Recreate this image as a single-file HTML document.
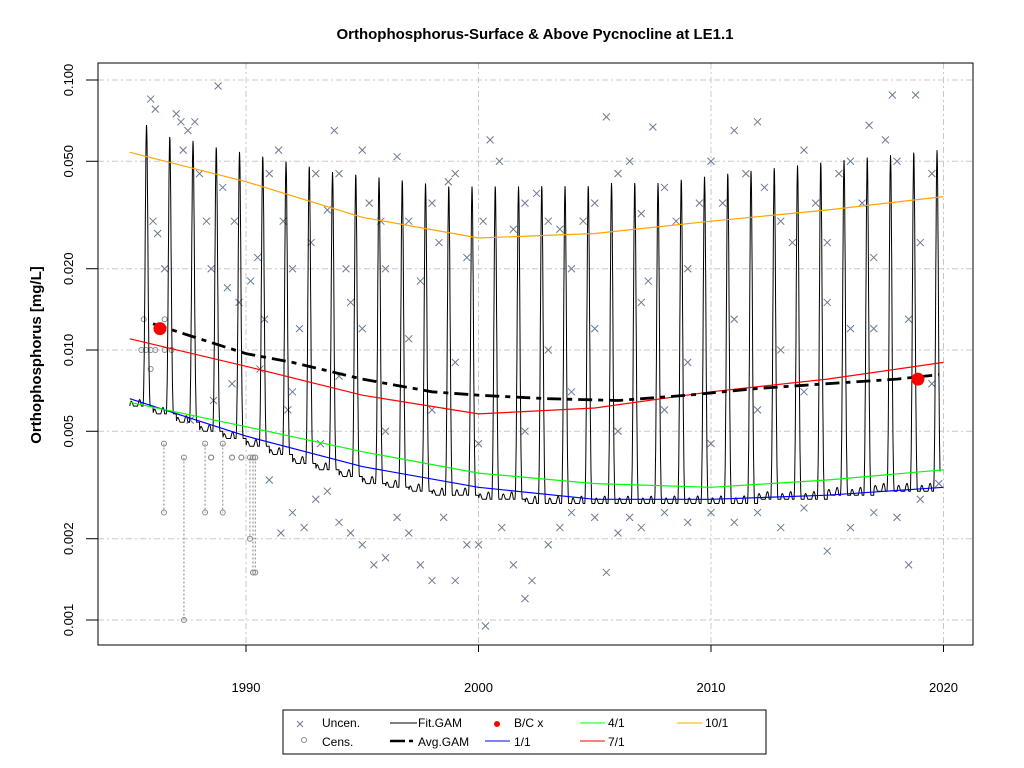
<!DOCTYPE html>
<html><head><meta charset="utf-8"><style>
body{margin:0;background:#fff;}
svg{display:block;font-family:"Liberation Sans",Arial,sans-serif;}
</style></head><body>
<svg id="chart" width="1024" height="768" viewBox="0 0 1024 768">
<text x="535" y="39" text-anchor="middle" font-size="15" font-weight="bold">Orthophosphorus-Surface &amp; Above Pycnocline at LE1.1</text>
<text transform="translate(41,355) rotate(-90)" text-anchor="middle" font-size="15" font-weight="bold">Orthophosphorus [mg/L]</text>
<g id="grid"></g>
<g id="cens"></g>
<g id="uncen"></g>
<g id="lines"></g>
<g id="axes"></g>
<rect x="98" y="63" width="875" height="582" fill="none" stroke="#000" stroke-width="1"/>
<g>
<rect x="283" y="710" width="483" height="44" fill="#fff" stroke="#000"/>
<g><path d="M297,721L303,727M297,727L303,721" stroke="#6b7a8f"/><text x="322" y="727" font-size="12">Uncen.</text></g>
<g><circle cx="304" cy="740" r="2.5" fill="none" stroke="#888"/><text x="322" y="746" font-size="12">Cens.</text></g>
<g><line x1="390" y1="723" x2="417" y2="723" stroke="#000"/><text x="418" y="727" font-size="12">Fit.GAM</text></g>
<g><line x1="390" y1="741" x2="405" y2="741" stroke="#000" stroke-width="2.5"/><line x1="409" y1="741" x2="413" y2="741" stroke="#000" stroke-width="2.5"/><text x="418" y="746" font-size="12">Avg.GAM</text></g>
<g><circle cx="497" cy="724" r="3" fill="#f00"/><text x="514" y="727" font-size="12">B/C x</text></g>
<g><line x1="485" y1="741" x2="510" y2="741" stroke="#00f"/><text x="514" y="746" font-size="12">1/1</text></g>
<g><line x1="580" y1="723" x2="605" y2="723" stroke="#0f0"/><text x="608" y="727" font-size="12">4/1</text></g>
<g><line x1="580" y1="741" x2="605" y2="741" stroke="#f00"/><text x="608" y="746" font-size="12">7/1</text></g>
<g><line x1="677" y1="723" x2="702" y2="723" stroke="#ffa500"/><text x="705" y="727" font-size="12">10/1</text></g>
</g>
</svg>
<script>
const xTicks=[1990,2000,2010,2020];
const yTicks=[0.001,0.002,0.005,0.01,0.02,0.05,0.1];
const yTickLabels=["0.001","0.002","0.005","0.010","0.020","0.050","0.100"];
const lineYears=[1985,1990,1995,2000,2005,2010,2015,2020];
const jan1=[0.0066,0.0048,0.0037,0.0031,0.0028,0.0028,0.0029,0.0031];
const apr1=[0.0064,0.0052,0.0042,0.0035,0.0032,0.0031,0.0033,0.0036];
const jul1=[0.011,0.0087,0.0068,0.0058,0.0061,0.0070,0.0078,0.0090];
const oct1=[0.054,0.042,0.031,0.026,0.027,0.030,0.033,0.037];
const avgYears=[1986,1988,1990,1992,1995,1998,2000,2003,2006,2009,2012,2015,2018,2019.8];
const avgVals=[0.0125,0.011,0.0097,0.009,0.0078,0.007,0.0068,0.0066,0.0065,0.0068,0.0072,0.0075,0.0078,0.0081];
const fitYears=[1985,1986,1987,1988,1989,1990,1991,1992,1993,1994,1995,1996,1997,1998,1999,2000,2001,2002,2003,2004,2005,2006,2007,2008,2009,2010,2011,2012,2013,2014,2015,2016,2017,2018,2019];
const fitPeaks=[0.063,0.057,0.055,0.052,0.05,0.048,0.046,0.044,0.042,0.041,0.04,0.039,0.038,0.037,0.037,0.037,0.037,0.037,0.037,0.037,0.038,0.038,0.038,0.039,0.04,0.041,0.042,0.043,0.044,0.045,0.046,0.047,0.048,0.049,0.05];
const fitTroughs=[0.0062,0.0058,0.0054,0.005,0.0047,0.0044,0.0041,0.0038,0.0036,0.0034,0.0032,0.0031,0.003,0.0029,0.0029,0.0028,0.0028,0.0027,0.0027,0.0027,0.0027,0.0027,0.0027,0.0027,0.0027,0.0027,0.0027,0.0028,0.0028,0.0028,0.0029,0.0029,0.003,0.003,0.003];
const bcYears=[1986.3,2018.9];
const bcVals=[0.012,0.0078];
const unYears=[1985.9,1986.1,1986,1986.2,1986.5,1987,1987.2,1987.5,1987.3,1987.8,1988,1988.3,1988.8,1988.5,1989,1989.5,1989.2,1989.7,1990.2,1990.5,1990.8,1991,1991.4,1991.6,1992,1992.3,1992.8,1993,1993.5,1993.8,1994,1994.3,1994.5,1995,1995.3,1995.8,1996,1996.5,1997,1997.5,1998,1998.3,1998.7,1999,1999.5,2000.2,2000.5,2000.9,2001.5,2002,2002.5,2003,2003.5,2004,2004.5,2005,2005.5,2006,2006.5,2007,2007.3,2007.5,2008,2008.5,2009,2009.5,2010,2010.5,2011,2011.5,2012,2012.3,2013,2013.5,2014,2014.5,2015,2015.5,2016,2016.5,2016.8,2017,2017.5,2017.8,2018,2018.5,2018.8,2019,2019.5,
1991,1991.5,1992,1992.5,1993,1993.5,1994,1994.5,1995,1995.5,1996,1996.5,1997,1997.5,1998,1998.5,1999,1999.5,2000,2000.3,2001,2001.5,2002,2002.3,2003,2003.5,2004,2005,2005.5,2006,2006.5,2007,2008,2009,2010,2011,2012,2013,2014,2015,2016,2017,2018,2018.5,2019,
1992,1994,1996,1998,2000,2002,2004,2006,2008,2010,2012,2014,2016,2017,2019.5,2019.8,1995,1997,1999,2003,2005,2007,2009,2011,2013,2015,1987.6,1988.6,1989.4,1990.6,1991.8,1993.2];
const unVals=[0.085,0.078,0.03,0.027,0.02,0.075,0.07,0.065,0.055,0.07,0.045,0.03,0.095,0.02,0.04,0.03,0.017,0.015,0.018,0.022,0.013,0.045,0.055,0.03,0.02,0.012,0.025,0.045,0.033,0.065,0.045,0.02,0.015,0.055,0.035,0.03,0.02,0.052,0.03,0.018,0.035,0.025,0.042,0.045,0.022,0.03,0.06,0.05,0.028,0.035,0.038,0.03,0.028,0.02,0.03,0.035,0.073,0.045,0.05,0.032,0.018,0.067,0.04,0.03,0.02,0.035,0.05,0.035,0.065,0.045,0.07,0.04,0.03,0.025,0.055,0.035,0.025,0.045,0.05,0.035,0.068,0.022,0.06,0.088,0.05,0.013,0.088,0.025,0.045,
0.0033,0.0021,0.0025,0.0022,0.0028,0.003,0.0023,0.0021,0.0019,0.0016,0.0017,0.0024,0.0021,0.0016,0.0014,0.0024,0.0014,0.0019,0.0019,0.00095,0.0022,0.0016,0.0012,0.0014,0.0019,0.0022,0.0025,0.0024,0.0015,0.0021,0.0024,0.0022,0.0025,0.0023,0.0025,0.0023,0.0025,0.0022,0.0026,0.0018,0.0022,0.0025,0.0024,0.0016,0.0028,
0.007,0.008,0.005,0.006,0.0045,0.005,0.007,0.005,0.006,0.0045,0.006,0.007,0.012,0.012,0.0075,0.0032,0.012,0.011,0.009,0.01,0.012,0.015,0.009,0.013,0.01,0.015,0.0055,0.0065,0.0075,0.0085,0.006,0.0045];
const cenYears=[1986.47,1987.33,1988.24,1988.5,1989.0,1989.4,1989.8,1990.17,1990.3,1990.4];
const cenUpper=[0.0045,0.004,0.0045,0.004,0.0045,0.004,0.004,0.004,0.004,0.004];
const cenLower=[0.0025,0.001,0.0025,0.004,0.0025,0.004,0.004,0.002,0.0015,0.0015];
const cenTopYears=[1985.5,1985.7,1985.9,1986.1,1986.5,1986.8,1985.6,1985.9,1986.5];
const cenTopVals=[0.01,0.01,0.01,0.01,0.01,0.01,0.013,0.0085,0.013];

const NS="http://www.w3.org/2000/svg";
const X=y=>246+(y-1990)*23.25;
const Y=v=>350-Math.log10(v/0.01)*270;
function mk(tag,attrs,parent){const e=document.createElementNS(NS,tag);for(const k in attrs)e.setAttribute(k,attrs[k]);parent.appendChild(e);return e;}
const grid=document.getElementById('grid'),axes=document.getElementById('axes'),lines=document.getElementById('lines');
xTicks.forEach(t=>{
 const g=mk('line',{x1:X(t),x2:X(t),y1:63,y2:645,stroke:'#c8c8c8','stroke-dasharray':'6 3 2 3'},grid);
 
 
 const tk=mk('line',{x1:X(t),x2:X(t),y1:645,y2:652,stroke:'#000'},axes);
 
 
 const tx=mk('text',{x:X(t),y:692,'text-anchor':'middle','font-size':'13'},axes);
 tx.textContent=t;
 
 
});
mk('line',{x1:X(1990),x2:X(2020),y1:645,y2:645,stroke:'#000'},axes);
yTicks.forEach((t,i)=>{
 const g=mk('line',{x1:98,x2:973,y1:Y(t),y2:Y(t),stroke:'#c8c8c8','stroke-dasharray':'6 3 2 3'},grid);
 
 
 const tk=mk('line',{x1:86,x2:98,y1:Y(t),y2:Y(t),stroke:'#000'},axes);
 
 
 const tx=mk('text',{transform:`translate(73,${Y(t)}) rotate(-90)`,'text-anchor':'middle','font-size':'13'},axes);
 tx.textContent=yTickLabels[i];
 
 
});
const cens=document.getElementById('cens');
cenYears.forEach((yr,i)=>{
 const l=mk('line',{x1:X(yr),x2:X(yr),y1:Y(cenUpper[i]),y2:Y(cenLower[i]),stroke:'#888','stroke-dasharray':'2 2'},cens);
 
 
 [cenUpper[i],cenLower[i]].forEach(v=>{const c=mk('circle',{cx:X(yr),cy:Y(v),r:2.5,fill:'none',stroke:'#888'},cens);
 
 });
});
cenTopYears.forEach((yr,i)=>{const c=mk('circle',{cx:X(yr),cy:Y(cenTopVals[i]),r:2.5,fill:'none',stroke:'#888'},cens);
 
 });
const un=document.getElementById('uncen');
unYears.forEach((yr,i)=>{const x=X(yr),y=Y(unVals[i]);
 const p=mk('path',{d:`M${x-3.5},${y-3.5}L${x+3.5},${y+3.5}M${x-3.5},${y+3.5}L${x+3.5},${y-3.5}`,stroke:'#6b7a8f','stroke-width':1},un);
 
 });
let d='';
for(let t=1985;t<=2019.85;t+=0.01){
 const i=Math.min(fitYears.length-1,Math.max(0,Math.floor(t)-1985));
 const lp=Math.log10(fitPeaks[i]),lt=Math.log10(fitTroughs[i]);
 let ph=t-Math.floor(t)-0.72;if(ph>0.5)ph-=1;if(ph<-0.5)ph+=1;
 const f=Math.exp(-Math.pow(ph/0.08,2))+0.04*Math.sin(t*2*Math.PI*3)*Math.max(0,Math.cos(ph*Math.PI));
 const v=Math.pow(10,lt+(lp-lt)*Math.max(0,f));
 d+=(d?'L':'M')+X(t).toFixed(1)+','+Y(v).toFixed(1);
}
const fit=mk('path',{d:d,fill:'none',stroke:'#000','stroke-width':1},lines);


function smooth(xs,vs,color,name){
 let p='';xs.forEach((yr,i)=>{p+=(i?'L':'M')+X(yr).toFixed(1)+','+Y(vs[i]).toFixed(1);});
 const e=mk('path',{d:p,fill:'none',stroke:color,'stroke-width':1.2},lines);
 
 
 return e;
}
smooth(lineYears,jan1,'#00f','line-1-1');
smooth(lineYears,apr1,'#0f0','line-4-1');
smooth(lineYears,jul1,'#f00','line-7-1');
smooth(lineYears,oct1,'#ffa500','line-10-1');
const av=smooth(avgYears,avgVals,'#000','avg-gam-line');
av.setAttribute('stroke-width','2.8');av.setAttribute('stroke-dasharray','14 6 5 6');
bcYears.forEach((yr,i)=>{const c=mk('circle',{cx:X(yr),cy:Y(bcVals[i]),r:6.5,fill:'#f00'},lines);
 
 });
</script>
</body></html>
